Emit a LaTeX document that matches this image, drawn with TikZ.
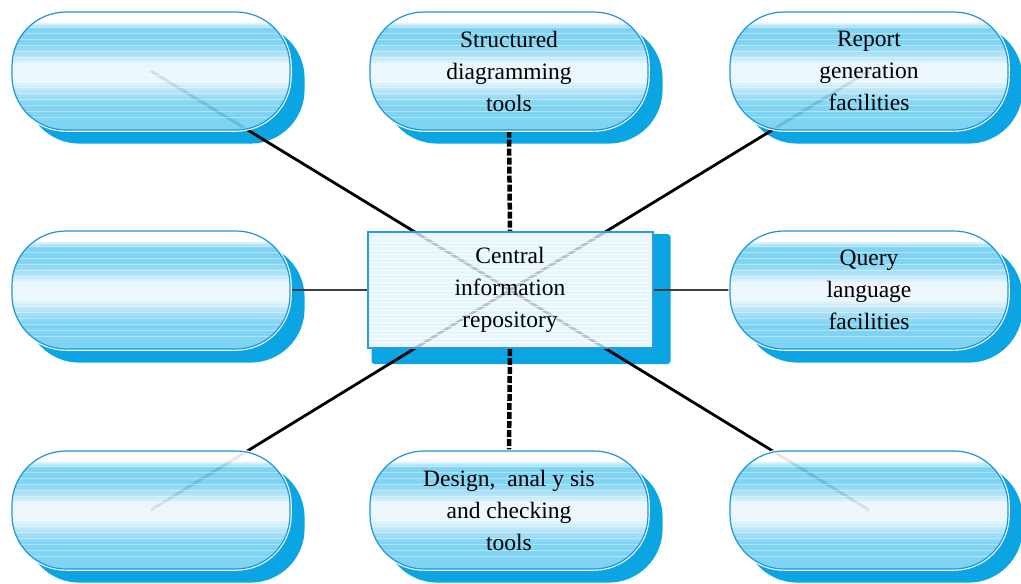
\documentclass[tikz,border=0pt]{standalone}
\usepackage{fontspec}
\setmainfont{Liberation Serif}
\definecolor{pillblue}{HTML}{72CFF2}
\definecolor{pillmid}{HTML}{A6E0F7}
\definecolor{paleblue}{HTML}{E9F7FD}
\definecolor{shadowblue}{HTML}{0BA5E4}
\definecolor{edgeblue}{HTML}{1E95DD}
\definecolor{boxfill}{HTML}{E2F4FC}
\definecolor{boxedge}{HTML}{2A9BE0}
\definecolor{hgrey}{HTML}{404040}
% pill interior (the y axis points down, so the stops run top to bottom):
% solid blue top, pale band in the middle, blue band, white rim at the bottom
\pgfdeclareverticalshading{pillshade}{100bp}{color(0bp)=(pillblue); color(25bp)=(pillblue); color(36bp)=(pillblue); color(41bp)=(pillmid); color(46bp)=(paleblue); color(53bp)=(paleblue); color(57bp)=(pillmid); color(62bp)=(pillblue); color(68bp)=(pillblue); color(71bp)=(white); color(75bp)=(white); color(100bp)=(white)}
\pgfdeclarelayer{bg}
\pgfdeclarelayer{shadow}
\pgfdeclarelayer{conn}
\pgfsetlayers{bg,shadow,conn,main}
\tikzset{
  pill/.style={rectangle, rounded corners=54pt, minimum width=278pt, minimum height=118pt,
    inner sep=0pt, shading=pillshade, fill opacity=0.9, text opacity=1,
    draw=edgeblue, line width=1.2pt, preaction={draw=white, line width=3.5pt},
    path picture={\foreach \s in {9,15,...,105}
        \draw[white, line width=0.6pt, opacity=0.4]
          ([yshift=-\s pt]path picture bounding box.north west) -- ([yshift=-\s pt]path picture bounding box.north east);},
    align=center, font=\fontsize{23.5pt}{32pt}\selectfont},
  repobox/.style={rectangle, minimum width=285pt, minimum height=116pt, inner sep=0pt,
    fill=boxfill, fill opacity=0.8, text opacity=1, draw=boxedge, line width=2pt,
    path picture={\foreach \s in {6,10,...,112}
        \draw[white, line width=1pt, opacity=0.7]
          ([yshift=-\s pt]path picture bounding box.north west) -- ([yshift=-\s pt]path picture bounding box.north east);},
    align=center, font=\fontsize{23.5pt}{32pt}\selectfont},
  diag/.style={draw=black, line width=2.8pt},
  vdash/.style={draw=black, line width=4.5pt, dash pattern=on 7pt off 2pt},
  hline/.style={draw=hgrey, line width=2pt},
  pillshadow/.style={fill=shadowblue, rounded corners=54pt},
  underlay/.style={fill=white, rounded corners=54pt},
}
\begin{document}
\begin{tikzpicture}[x=1pt, y=-1pt]
\begin{pgfonlayer}{bg}
  \fill[white] (0,0) rectangle (1021,584);
\end{pgfonlayer}
\useasboundingbox (0,0) rectangle (1021,584);

% tool pills around the repository
\node[pill] (tl) at (151,71) {};
\node[pill] (tm) at (509,71) {Structured\\diagramming\\tools};
\node[pill] (tr) at (869,71) {Report\\generation\\facilities};
\node[pill] (ml) at (151,290) {};
\node[pill] (mr) at (869,290) {Query\\language\\facilities};
\node[pill] (bl) at (151,510) {};
\node[pill] (bm) at (509,510) {Design,\ \ anal y sis\\and checking\\tools};
\node[pill] (br) at (869,510) {};

% central repository
\node[repobox] (repo) at (510,290) {Central\\information\\repository};

% drop shadows, with a white underlay so the translucent faces stay pale
\begin{pgfonlayer}{shadow}
  \foreach \p in {tl,tm,tr,ml,mr,bl,bm,br}
    \fill[pillshadow] ([shift={(14,13)}]\p.north west) rectangle ([shift={(14,13)}]\p.south east);
  \fill[shadowblue, rounded corners=3pt] ([shift={(5,3)}]repo.north west) rectangle ([shift={(17,15)}]repo.south east);
  \foreach \p in {tl,tm,tr,ml,mr,bl,bm,br}
    \fill[underlay] (\p.north west) rectangle (\p.south east);
  \fill[white] (repo.north west) rectangle (repo.south east);
\end{pgfonlayer}

% connectors
\begin{pgfonlayer}{conn}
  \draw[diag] (tl.center) -- (repo.center);
  \draw[diag] (tr.center) -- (repo.center);
  \draw[diag] (bl.center) -- (repo.center);
  \draw[diag] (br.center) -- (repo.center);
  \draw[vdash] (tm.south) -- (repo.north);
  \draw[vdash] (repo.south) -- (bm.north);
  \draw[hline] (ml.east) -- (repo.west);
  \draw[hline] (repo.east) -- (mr.west);
\end{pgfonlayer}
\end{tikzpicture}
\end{document}
